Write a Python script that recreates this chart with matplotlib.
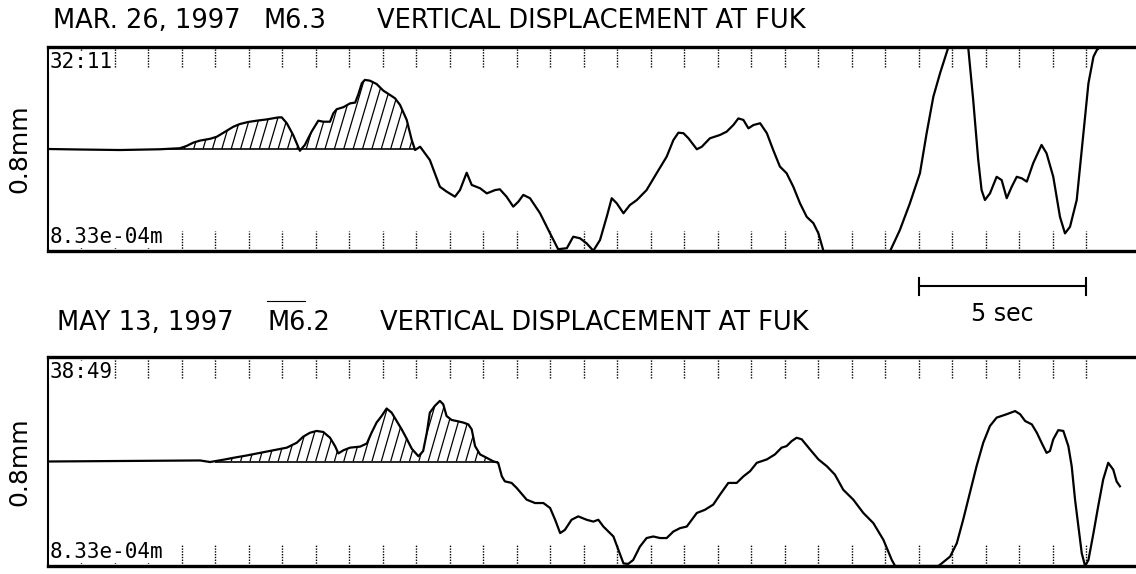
import numpy as np
import matplotlib.pyplot as plt
from matplotlib.collections import LineCollection
from matplotlib.lines import Line2D
from matplotlib.transforms import blended_transform_factory

top_t = [0.00, 0.97, 2.16, 3.36, 3.95, 4.15, 4.35, 4.55, 4.85, 5.05, 5.30, 5.54, 5.74, 5.99,
         6.24, 6.54, 6.89, 6.99, 7.14, 7.33, 7.53, 7.68, 7.88, 8.08, 8.23, 8.43, 8.53, 8.63,
         8.83, 9.03, 9.18, 9.27, 9.38, 9.47, 9.62, 9.82, 10.02, 10.22, 10.37, 10.52, 10.72,
         10.87, 10.97, 11.12, 11.41, 11.71, 11.91, 12.16, 12.31, 12.51, 12.66, 12.91, 13.11,
         13.36, 13.50, 13.70, 13.90, 14.05, 14.20, 14.40, 14.70, 15.00, 15.24, 15.50, 15.69,
         15.89, 16.09, 16.29, 16.49, 16.69, 16.84, 16.99, 17.19, 17.38, 17.59, 17.88, 18.18,
         18.48, 18.68, 18.83, 18.98, 19.13, 19.38, 19.53, 19.77, 20.07, 20.27, 20.47, 20.62,
         20.77, 20.92, 21.07, 21.27, 21.47, 21.66, 21.86, 22.06, 22.26, 22.46, 22.66, 22.86,
         23.01, 23.16, 25.15, 25.44, 25.74, 26.04, 26.24, 26.44, 26.64, 26.89, 27.48, 27.63,
         27.78, 27.88, 27.98, 28.13, 28.33, 28.48, 28.63, 28.78, 28.93, 29.08, 29.23, 29.42,
         29.67, 29.82, 30.02, 30.22, 30.37, 30.52, 30.72, 30.92, 31.07, 31.22, 31.32, 31.42,
         32.49]
top_v = [0.000, -0.002, -0.004, -0.001, 0.003, 0.012, 0.025, 0.033, 0.040, 0.048, 0.068,
         0.087, 0.098, 0.106, 0.111, 0.116, 0.124, 0.124, 0.101, 0.055, -0.007, 0.016, 0.068,
         0.111, 0.107, 0.107, 0.140, 0.156, 0.164, 0.179, 0.182, 0.212, 0.258, 0.271, 0.268,
         0.255, 0.229, 0.212, 0.199, 0.173, 0.114, 0.035, -0.004, 0.009, -0.043, -0.148,
         -0.167, -0.187, -0.161, -0.093, -0.141, -0.154, -0.174, -0.161, -0.158, -0.187,
         -0.226, -0.207, -0.180, -0.193, -0.252, -0.331, -0.393, -0.389, -0.344, -0.350,
         -0.370, -0.399, -0.357, -0.266, -0.193, -0.213, -0.252, -0.220, -0.200, -0.161,
         -0.095, -0.030, 0.035, 0.064, 0.062, 0.042, -0.001, 0.009, 0.042, 0.055, 0.068,
         0.094, 0.120, 0.114, 0.081, 0.094, 0.101, 0.062, -0.004, -0.069, -0.095, -0.148,
         -0.213, -0.266, -0.291, -0.331, -0.400, -0.400, -0.318, -0.213, -0.095, 0.062,
         0.205, 0.297, 0.400, 0.400, 0.192, -0.043, -0.161, -0.200, -0.174, -0.109, -0.122,
         -0.193, -0.148, -0.109, -0.115, -0.128, -0.056, 0.016, -0.017, -0.109, -0.266,
         -0.331, -0.305, -0.200, 0.062, 0.258, 0.362, 0.388, 0.400, 0.400]

bot_t = [0.00, 2.16, 4.55, 4.85, 5.30, 5.54, 5.94, 6.34, 6.74, 7.14, 7.44, 7.63, 7.83, 8.03,
         8.23, 8.43, 8.58, 8.68, 8.83, 9.03, 9.33, 9.53, 9.67, 9.82, 9.97, 10.12, 10.27,
         10.42, 10.57, 10.72, 10.87, 11.07, 11.21, 11.32, 11.41, 11.56, 11.71, 11.81, 11.91,
         12.06, 12.21, 12.41, 12.56, 12.66, 12.76, 12.91, 13.11, 13.30, 13.45, 13.56, 13.65,
         13.85, 14.00, 14.30, 14.55, 14.80, 15.00, 15.15, 15.30, 15.44, 15.64, 15.84, 16.09,
         16.29, 16.44, 16.59, 16.89, 17.04, 17.19, 17.33, 17.48, 17.68, 17.88, 18.08, 18.28,
         18.48, 18.68, 18.88, 19.08, 19.38, 19.62, 19.87, 20.07, 20.32, 20.57, 20.77, 20.97,
         21.17, 21.47, 21.71, 21.91, 22.06, 22.21, 22.36, 22.51, 22.76, 23.01, 23.26, 23.50,
         23.75, 24.05, 24.35, 24.65, 24.95, 25.20, 25.30, 26.59, 26.69, 26.94, 27.14, 27.33,
         27.53, 27.73, 27.93, 28.13, 28.33, 28.63, 28.88, 29.03, 29.18, 29.38, 29.53, 29.67,
         29.82, 29.92, 30.02, 30.17, 30.32, 30.47, 30.57, 30.67, 30.77, 30.87, 30.97, 31.07,
         31.22, 31.36, 31.51, 31.66, 31.81, 31.91, 32.01]
bot_v = [0.000, 0.002, 0.004, -0.002, 0.008, 0.014, 0.023, 0.033, 0.043, 0.053, 0.072, 0.095,
         0.110, 0.117, 0.113, 0.091, 0.059, 0.031, 0.043, 0.053, 0.057, 0.069, 0.110, 0.149,
         0.174, 0.203, 0.187, 0.155, 0.123, 0.087, 0.049, 0.020, 0.040, 0.110, 0.187, 0.213,
         0.232, 0.219, 0.174, 0.159, 0.155, 0.149, 0.142, 0.123, 0.059, 0.027, 0.014, 0.001,
         -0.005, -0.057, -0.076, -0.082, -0.101, -0.146, -0.159, -0.159, -0.178, -0.223,
         -0.274, -0.262, -0.223, -0.210, -0.223, -0.230, -0.223, -0.249, -0.287, -0.338,
         -0.390, -0.392, -0.377, -0.326, -0.293, -0.287, -0.293, -0.293, -0.268, -0.255,
         -0.249, -0.197, -0.185, -0.165, -0.127, -0.082, -0.082, -0.057, -0.037, -0.005,
         0.008, 0.027, 0.053, 0.059, 0.078, 0.091, 0.085, 0.046, 0.008, -0.018, -0.050,
         -0.108, -0.146, -0.197, -0.236, -0.300, -0.377, -0.400, -0.400, -0.390, -0.364,
         -0.313, -0.223, -0.120, -0.018, 0.072, 0.136, 0.168, 0.181, 0.193, 0.181, 0.155,
         0.142, 0.110, 0.072, 0.033, 0.040, 0.085, 0.120, 0.117, 0.059, -0.018, -0.146,
         -0.249, -0.351, -0.400, -0.377, -0.274, -0.172, -0.069, -0.005, -0.031, -0.076,
         -0.095]

# hatched P-wave part (s)
top_hatch = (3.6, 10.97)
bot_hatch = (5.0, 13.45)

top_title = ["MAR. 26, 1997", "M6.3", "VERTICAL DISPLACEMENT AT FUK"]
bot_title = ["MAY 13, 1997", "M6.2", "VERTICAL DISPLACEMENT AT FUK"]
top_clock = "32:11"
bot_clock = "38:49"
scale_text = "8.33e-04m"
amp_label = "0.8mm"
second_ticks = np.arange(1, 32)
scale_start, scale_len = 26.0, 5

W, H = 1136, 574
fig = plt.figure(figsize=(W / 100, H / 100), dpi=100)
x0 = 47.6 / W
ax1 = fig.add_axes([x0, 1 - 251 / H, 1 - x0, 204 / H])
ax2 = fig.add_axes([x0, 1 - 566 / H, 1 - x0, 209 / H])


def draw_panel(ax, t, v, hatch, clock):
    t = np.array(t)
    v = np.array(v)
    ax.set_xlim(0, (W - 47.6) / 33.5)
    ax.set_ylim(-0.4, 0.4)
    ax.set_xticks([])
    ax.set_yticks([])
    ax.spines["right"].set_visible(False)
    ax.spines["top"].set_linewidth(2.4)
    ax.spines["bottom"].set_linewidth(2.4)
    ax.spines["left"].set_linewidth(1.5)

    # dotted second marks along top and bottom
    xt = ax.get_xaxis_transform()
    ax.vlines(second_ticks, 0.9, 1.0, transform=xt, colors="black",
              linestyles=(0, (1, 1)), linewidth=1.0, zorder=1)
    ax.vlines(second_ticks, 0.0, 0.1, transform=xt, colors="black",
              linestyles=(0, (1, 1)), linewidth=1.0, zorder=1)

    # hatch the first positive pulse with steep slanted lines
    sel = (t >= hatch[0]) & (t <= hatch[1])
    poly = ax.fill_between(t, 0, np.clip(v, 0, None), where=sel,
                           facecolor="none", edgecolor="none")
    xs = np.arange(hatch[0] - 1.2, hatch[1] + 0.3, 0.28)
    segs = [[(x, 0.0), (x + 0.9, 0.4)] for x in xs]
    lc = LineCollection(segs, colors="black", linewidths=0.9, zorder=2)
    ax.add_collection(lc)
    lc.set_clip_path(poly.get_paths()[0], ax.transData)
    ax.hlines(0, hatch[0], hatch[1], colors="black", linewidth=1.2, zorder=2)

    ax.plot(t, v, color="black", linewidth=1.6, zorder=3)

    box = dict(facecolor="white", edgecolor="none", pad=0.6)
    ax.text(0.0022, 0.975, clock, transform=ax.transAxes, ha="left", va="top",
            family="DejaVu Sans Mono", fontsize=15, bbox=box, zorder=5)
    ax.text(0.0022, 0.02, scale_text, transform=ax.transAxes, ha="left",
            va="bottom", family="DejaVu Sans Mono", fontsize=15, bbox=box, zorder=5)
    ax.text(-0.0263, 0.5, amp_label, transform=ax.transAxes, rotation=90,
            ha="center", va="center", fontsize=18)


draw_panel(ax1, top_t, top_v, top_hatch, top_clock)
draw_panel(ax2, bot_t, bot_v, bot_hatch, bot_clock)

# titles
for parts, xs_px, base_px in [(top_title, (53, 263, 377), 28),
                              (bot_title, (57, 267, 380), 330)]:
    for txt, xp in zip(parts, xs_px):
        fig.text(xp / W, 1 - base_px / H, txt, ha="left", va="baseline", fontsize=18.5)

# small scan mark above M6.2
fig.add_artist(Line2D([267 / W, 305 / W], [1 - 300.5 / H] * 2, color="black", linewidth=0.8))

# 5 sec scale bar
tr = blended_transform_factory(ax1.transData, fig.transFigure)
ybar = 1 - 286 / H
ax1.plot([scale_start, scale_start + scale_len], [ybar, ybar], transform=tr,
         color="black", linewidth=1.5, clip_on=False)
for xe in (scale_start, scale_start + scale_len):
    ax1.plot([xe, xe], [1 - 278 / H, 1 - 295 / H], transform=tr,
             color="black", linewidth=1.5, clip_on=False)
ax1.text(scale_start + scale_len / 2, 1 - 314 / H, f"{scale_len} sec", transform=tr,
         ha="center", va="center", fontsize=17)

fig.savefig("out.png", dpi=100)
